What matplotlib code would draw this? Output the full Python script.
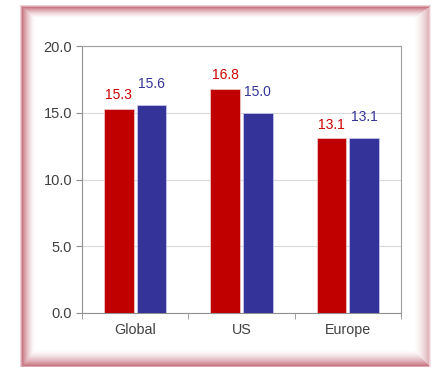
import matplotlib
matplotlib.use("Agg")
import matplotlib.pyplot as plt
import numpy as np

categories = ["Global", "US", "Europe"]
series_a = [15.3, 16.8, 13.1]
series_b = [15.6, 15.0, 13.1]
yticks = [0.0, 5.0, 10.0, 15.0, 20.0]

red = "#C00000"
blue = "#333399"

plt.rcParams['font.family'] = ['Liberation Sans', 'DejaVu Sans']

fig = plt.figure(figsize=(4.42, 3.67), dpi=100)
W, H = 442, 367

# decorative soft pink frame drawn as a background image
yy, xx = np.mgrid[0:H, 0:W].astype(float)
ox0, oy0, ox1, oy1 = 22, 7, 428, 365
tl, tt, tr, tb = 13, 11, 15, 16
dl = (xx - ox0) / tl
dt = (yy - oy0) / tt
dr = (ox1 - xx) / tr
db = (oy1 - yy) / tb
d = np.minimum.reduce([dl, dt, dr, db])
inside = np.clip(1 - d, 0, 1) ** 1.6
outside_d = np.maximum.reduce([ox0 - xx, oy0 - yy, xx - ox1, yy - oy1])
outer = np.clip(1 - outside_d / 3.0, 0, 1)
alpha = np.where(d >= 0, inside, outer) * 0.75
# right side lighter
alpha = alpha * np.where(dr < np.minimum.reduce([dl, dt, db]), 0.55, 1.0)
img = np.ones((H, W, 4))
col = np.array([0.72, 0.30, 0.36])
img[..., :3] = 1 - alpha[..., None] * (1 - col)
img[..., 3] = 1
bg = fig.add_axes([0, 0, 1, 1], zorder=0)
bg.imshow(img, aspect="auto", interpolation="bilinear")
bg.axis("off")

ax = fig.add_axes([82 / W, 1 - 313 / H, (401 - 82) / W, (313 - 46) / H], zorder=1)
ax.set_facecolor("white")

xpos = np.arange(len(categories))
bw = 0.277
gap = 0.0155
ax.bar(xpos - bw / 2 - gap, series_a, width=bw, color=red, zorder=3,
       edgecolor="#f0d0d0", linewidth=0.5)
ax.bar(xpos + bw / 2 + gap, series_b, width=bw, color=blue, zorder=3,
       edgecolor="#d0d0f0", linewidth=0.5)

for xi, v in zip(xpos, series_a):
    ax.annotate(f"{v:.1f}", (xi - bw / 2 - gap, v), xytext=(0, 4.5),
                textcoords="offset points", ha="center", va="bottom",
                color="#cc0000", fontsize=10)
for xi, v in zip(xpos, series_b):
    ax.annotate(f"{v:.1f}", (xi + bw / 2 + gap, v), xytext=(0, 10),
                textcoords="offset points", ha="center", va="bottom",
                color=blue, fontsize=10)

ax.set_xlim(-0.5, 2.5)
ax.set_ylim(0, 20)
ax.set_yticks(yticks)
ax.set_yticklabels([f"{t:.1f}" for t in yticks], fontsize=10.5, color="#404040")
ax.yaxis.grid(True, color="#d9d9d9", linewidth=0.8, zorder=0)
ax.set_xticks(xpos)
ax.set_xticklabels(categories, fontsize=10.3, color="#404040")
ax.tick_params(axis="x", length=0, pad=7)
ax.set_xticks([-0.5, 0.5, 1.5, 2.5], minor=True)
ax.tick_params(axis="x", which="minor", length=4, color="#909090")
ax.tick_params(axis="y", length=4, color="#909090", pad=3)
for s in ax.spines.values():
    s.set_color("#a0a0a0")
    s.set_linewidth(0.8)
ax.spines["left"].set_color("#909090")
ax.spines["bottom"].set_color("#909090")

fig.savefig("out.png", dpi=100)
